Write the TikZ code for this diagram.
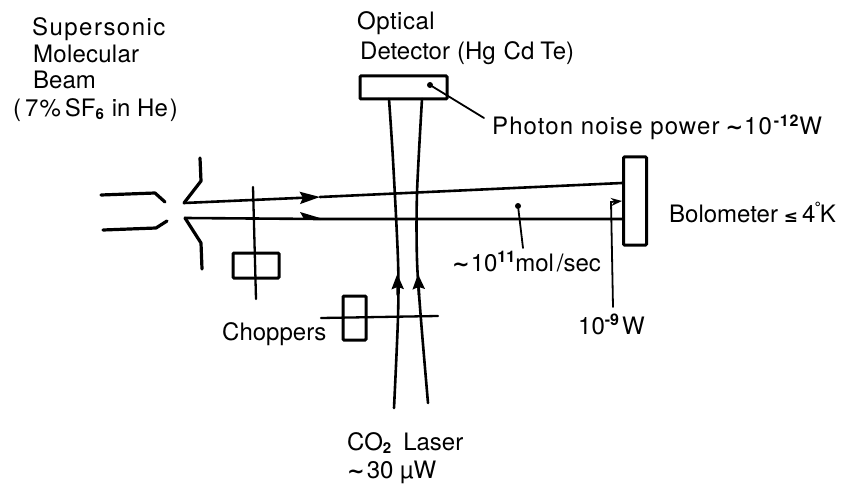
\documentclass[tikz,border=0pt]{standalone}
\usepackage{fontspec}
\setmainfont{TeX Gyre Heros}
\newfontfamily\symfont{DejaVu Sans}
\usetikzlibrary{arrows.meta}
\newcommand{\supr}[1]{\raisebox{8.5pt}{\fontsize{16}{16}\selectfont\bfseries #1}}
\newcommand{\subr}[1]{\raisebox{-3pt}{\fontsize{15}{15}\selectfont\bfseries #1}}
\newcommand{\tld}{{\symfont\bfseries\fontsize{21}{21}\selectfont ∼}}
\newcommand{\lte}{{\symfont\bfseries\fontsize{17}{17}\selectfont ≤}}
\newcommand{\spc}[1]{\addfontfeature{LetterSpace=#1}}
\tikzset{
 lbl/.style={inner sep=0pt,anchor=base west,font=\fontsize{24}{27}\selectfont,text=black},
 heavy/.style={line width=3.2pt,black,line cap=round,line join=round},
 ln/.style={line width=2.6pt,black,line cap=round,line join=round},
 leader/.style={line width=1.8pt,black,line cap=round},
 box/.style={draw=black,line width=3pt,rounded corners=1pt,inner sep=0pt},
 tipb/.style={-{Stealth[length=20pt,width=12pt,inset=3pt]}},
 tipl/.style={-{Stealth[length=15pt,width=12pt,inset=2pt]}},
 dot/.style={circle,fill=black,inner sep=0pt,minimum size=6pt}
}
\begin{document}
\begin{tikzpicture}[x=1pt,y=-1pt]
\useasboundingbox (0,0) rectangle (845,489);
\fill[white] (0,0) rectangle (845,489);
% boxes
\node[box,minimum width=87,minimum height=23] (det) at (403.5,87.5) {};
\node[box,minimum width=23,minimum height=88] (bolo) at (635,201) {};
\node[box,minimum width=46,minimum height=25] (c1) at (256,265.5) {};
\node[box,minimum width=23,minimum height=44] (c2) at (354.5,318) {};
% named ends
\coordinate (n1) at (101,195); \coordinate (n2) at (155,193); \coordinate (n3) at (165,202);
\coordinate (n4) at (103,230); \coordinate (n5) at (156,228); \coordinate (n6) at (167,221);
\coordinate (s1) at (200,158); \coordinate (s2) at (201,181); \coordinate (s3) at (184,203);
\coordinate (s4) at (185,218); \coordinate (s5) at (201,243); \coordinate (s6) at (202,269);
\coordinate (b1a) at (320,197); \coordinate (b2a) at (320,219);
% nozzle and skimmer
\draw[heavy] (n1)--(n2)--(n3);
\draw[heavy] (n4)--(n5)--(n6);
\draw[heavy] (s1)--(s2)--(s3);
\draw[heavy] (s4)--(s5)--(s6);
% molecular beam
\draw[ln,tipb] (s3)--(b1a);
\draw[ln] (b1a)--(bolo.west|-0,183);
\draw[ln] (s4)--(b2a)--(bolo.west|-0,219);
\fill[black] (300,212)--(320,218)--(320,220)--(304,219)--cycle;
% laser beams
\draw[ln] plot[smooth] coordinates {(389,99) (393,160) (398,260) (398,317) (394,408)};
\draw[ln] plot[smooth] coordinates {(422,99) (417,193) (417,260) (421,320) (428,403)};
\draw[ln,tipl] (397.8,295)--(397.3,274);
\draw[ln,tipl] (419,295)--(418,274);
% choppers
\draw[leader,line width=2.3pt] (253,187)--(256,299);
\draw[leader,line width=2.3pt] (321,318)--(438,316);
% leaders
\coordinate (d1) at (430,85); \coordinate (d2) at (484,118);
\node[dot] (d0) at (d1) {};
\draw[leader] (d0)--(d2);
\coordinate (m2) at (523,248);
\node[dot] (m0) at (518,206) {};
\draw[leader] (m0)--(m2);
\coordinate (p1) at (613,307); \coordinate (p2) at (611,202);
\draw[leader,-{Stealth[length=11pt,width=8pt]}] (p1)--(p2)--(bolo.west|-0,201);
% texts
\node[lbl] (t1) at (32,36) {\spc{6}Supersonic};
\node[lbl] (t1b) at (33,63) {\spc{1}Molecular};
\node[lbl] (t1c) at (33,89) {Beam};
\node[lbl] (t1d) at (13,117) {(\,7\kern1pt\%\kern4pt SF\subr{6}\kern8pt in He\kern2pt)};
\node[lbl] (t2) at (357,30) {\spc{2}Optical};
\node[lbl] (t2b) at (360,60) {Detector\kern7pt(Hg\kern8pt Cd\kern6pt Te)};
\node[lbl] (t3) at (492,135) {\spc{4.5}Photon noise power\kern6pt\tld\kern1pt 10\kern2pt\supr{-12}\kern1pt W};
\node[lbl] (t4) at (669,222) {Bolometer\kern6pt\lte\kern4pt 4\kern-1pt\supr{°}\kern-1pt K};
\node[lbl] (t5) at (452,271) {\tld\kern1pt 10\supr{11}mol\kern3pt/sec};
\node[lbl] (t6) at (578,334) {10\supr{-9}\kern3pt W};
\node[lbl] (t7) at (222,340) {Choppers};
\node[lbl] (t8) at (347,450) {CO\subr{2}\kern12pt Laser};
\node[lbl] (t9) at (347,478) {\tld\kern2pt 30 µW};
\end{tikzpicture}
\end{document}
